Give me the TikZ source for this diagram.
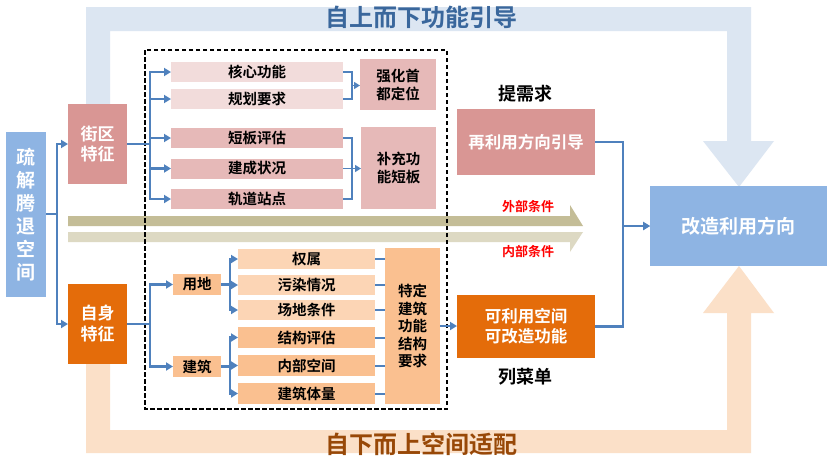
\documentclass[tikz,border=0pt]{standalone}
\usepackage{fontspec}
\setmainfont{Noto Sans CJK SC}[BoldFont={Noto Sans CJK SC Bold}]
\usetikzlibrary{arrows.meta,calc}
\definecolor{bandblue}{HTML}{DCE6F2}
\definecolor{bandpeach}{HTML}{FBE0C8}
\definecolor{titleblue}{HTML}{3A679C}
\definecolor{titlebrown}{HTML}{984807}
\definecolor{cblue}{HTML}{4F81BD}
\definecolor{boxblue}{HTML}{8EB4E3}
\definecolor{boxrose}{HTML}{D99694}
\definecolor{boxorange}{HTML}{E46C0A}
\definecolor{pinkl}{HTML}{F2DCDB}
\definecolor{pinkm}{HTML}{E6B9B8}
\definecolor{orl}{HTML}{FCD5B5}
\definecolor{orm}{HTML}{FAC090}
\definecolor{tanA}{HTML}{C4BD97}
\definecolor{tanB}{HTML}{DDD9C3}
\newcommand\myfs[2]{\fontsize{#1}{#2}\selectfont}
\begin{document}
\begin{tikzpicture}[x=1pt,y=-1pt,
  every node/.style={inner sep=0pt, outer sep=0pt, align=center},
  abox/.style={minimum width=172pt, minimum height=20pt, font=\bfseries\myfs{14.5}{17}},
  bbox/.style={minimum width=137pt, minimum height=20.5pt, fill=orl, font=\bfseries\myfs{14.5}{17}},
  cbox/.style={minimum width=137pt, minimum height=20.5pt, fill=orm, font=\bfseries\myfs{14.5}{17}},
  ln/.style={draw=cblue, line width=2.5pt},
  arr/.style={draw=cblue, line width=2.5pt, -{Triangle[length=7pt,width=8pt]}},
  thinln/.style={draw=cblue, line width=1.3pt},
  thinarr/.style={draw=cblue, line width=1.3pt, -{Triangle[length=6pt,width=7pt]}},
  midln/.style={draw=cblue, line width=2pt}
]
\useasboundingbox (0,0) rectangle (831,459);
\fill[white] (0,0) rectangle (831,459);

% big bands
\fill[bandblue] (86,104) -- (86,7) -- (751,7) -- (751,141) -- (774,141) -- (739,187) -- (703,141) -- (727,141) -- (727,31) -- (110,31) -- (110,104) -- cycle;
\fill[bandpeach] (86,364) -- (86,453) -- (751,453) -- (751,313) -- (774,313) -- (739,266) -- (703,313) -- (727,313) -- (727,430) -- (110,430) -- (110,364) -- cycle;

\node[font=\bfseries\myfs{24}{28}, text=titleblue] (ttop) at (421,17) {自上而下功能引导};
\node[font=\bfseries\myfs{24}{28}, text=titlebrown] (tbot) at (421,444) {自下而上空间适配};

% tan arrows
\fill[tanA] (68,216) -- (570,216) -- (570,205) -- (583,226) -- (68,226) -- cycle;
\fill[tanB] (68,232) -- (583,232) -- (570,252) -- (570,242) -- (68,242) -- cycle;
\node[font=\bfseries\myfs{13}{15}, text=red] (wb) at (528,207) {外部条件};
\node[font=\bfseries\myfs{13}{15}, text=red] (nb) at (528,252) {内部条件};

% dashed group
\draw[dashed, line width=1.5pt, dash pattern=on 4.5pt off 2.5pt] (145,50) rectangle (447,409);

% main boxes
\node[fill=boxblue, minimum width=40pt, minimum height=165pt, text=white, font=\bfseries\myfs{19}{23}] (sj) at (26,214.5) {疏\\解\\腾\\退\\空\\间};
\node[fill=boxrose, minimum width=59pt, minimum height=80pt, text=white, font=\bfseries\myfs{17}{20.5}] (jq) at (97.5,144) {街区\\特征};
\node[fill=boxorange, minimum width=59pt, minimum height=80pt, text=white, font=\bfseries\myfs{17}{21}] (zs) at (97.5,324) {自身\\特征};

% upper branch boxes
\node[abox, fill=pinkl] (a1) at (257,72) {核心功能};
\node[abox, fill=pinkl] (a2) at (257,99) {规划要求};
\node[abox, fill=pinkm] (a3) at (257,138) {短板评估};
\node[abox, fill=pinkm] (a4) at (257,168.5) {建成状况};
\node[abox, fill=pinkm] (a5) at (257,199) {轨道站点};
\node[fill=pinkm, minimum width=76pt, minimum height=51pt, font=\bfseries\myfs{14.5}{18}] (qh) at (398,84.5) {强化首\\都定位};
\node[fill=pinkm, minimum width=75pt, minimum height=82pt, font=\bfseries\myfs{14.5}{17.5}] (bc) at (398.5,168) {补充功\\能短板};

% lower branch boxes
\node[fill=orm, minimum width=48pt, minimum height=21pt, font=\bfseries\myfs{14.5}{17}] (yd) at (197,284.5) {用地};
\node[fill=orm, minimum width=48pt, minimum height=21pt, font=\bfseries\myfs{14.5}{17}] (jz) at (197,366.5) {建筑};
\node[bbox] (b1) at (306.5,259) {权属};
\node[bbox] (b2) at (306.5,285) {污染情况};
\node[bbox] (b3) at (306.5,310) {场地条件};
\node[cbox] (b4) at (306.5,337.5) {结构评估};
\node[cbox] (b5) at (306.5,365.5) {内部空间};
\node[cbox] (b6) at (306.5,393.5) {建筑体量};
\node[fill=orm, minimum width=55pt, minimum height=156pt, font=\bfseries\myfs{14.5}{17.5}] (td) at (412.5,326) {特定\\建筑\\功能\\结构\\要求};

% right side
\node[fill=boxrose, minimum width=138pt, minimum height=66pt, text=white, font=\bfseries\myfs{16.5}{20}] (zl) at (526,142) {再利用方向引导};
\node[fill=boxorange, minimum width=138pt, minimum height=63pt, text=white, font=\bfseries\myfs{16.5}{20}] (kl) at (526,326.5) {可利用空间\\可改造功能};
\node[fill=boxblue, minimum width=177pt, minimum height=80pt, text=white, font=\bfseries\myfs{19}{22}] (gz) at (738.5,226) {改造利用方向};
\node[font=\bfseries\myfs{18}{20}] (xq) at (525,94) {提需求};
\node[font=\bfseries\myfs{18}{20}] (cd) at (525,377) {列菜单};

% coordinates for trunks
\coordinate (tA) at (57,0);
\coordinate (tB) at (150,0);
\coordinate (tC) at (230,0);
\coordinate (tD) at (352,0);
\coordinate (tE) at (623,0);

% left split
\draw[ln] (sj.east |- 0,214) -- (tA |- 0,214);
\draw[arr] (tA |- 0,214) |- (jq.west);
\draw[arr] (tA |- 0,214) |- (zs.west);

% street branch
\foreach \n in {a1,a2,a3,a4,a5}{
  \draw[arr] (jq.east) -- (jq.east -| tB) |- (\n.west);
}
% brackets
\coordinate (br1) at ($(tD)+(0,85.5)$);
\draw[thinln] (a1.east) -| (br1) |- (a2.east);
\draw[thinarr] (br1) -- (qh.west |- br1);
\draw[thinln] (a3.east) -| (tD |- a4.east) |- (a5.east);
\draw[thinarr] (a4.east) -- (bc.west |- a4.east);

% self branch
\draw[arr] (zs.east) -- (zs.east -| tB) |- (yd.west);
\draw[arr] (zs.east) -- (zs.east -| tB) |- (jz.west);
\foreach \n in {b1,b2,b3}{
  \draw[arr] (yd.east) -- (yd.east -| tC) |- (\n.west);
}
\foreach \n in {b4,b5,b6}{
  \draw[arr] (jz.east) -- (jz.east -| tC) |- (\n.west);
}
\foreach \n in {b1,b2,b3,b4,b5,b6}{
  \draw[midln] (\n.east) -- (td.west |- \n.east);
}
\draw[arr] (td.east) -- (kl.west |- td.east);

% to target
\draw[arr] (zl.east) -| (tE |- gz.west) -- (gz.west);
\draw[arr] (kl.east) -| (tE |- gz.west) -- (gz.west);
\end{tikzpicture}
\end{document}
